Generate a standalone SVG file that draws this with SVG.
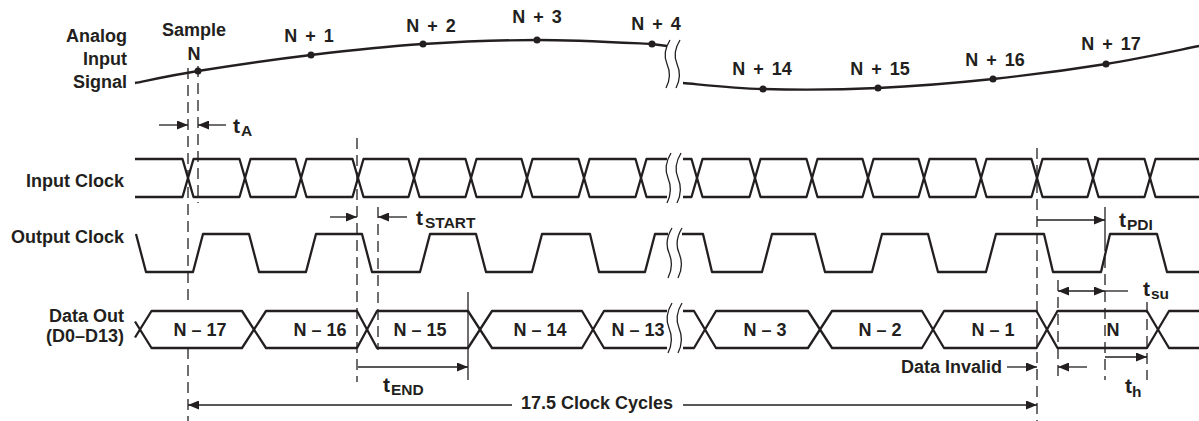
<svg xmlns="http://www.w3.org/2000/svg" width="1199" height="421" viewBox="0 0 1199 421">
<style>
text{font-family:"Liberation Sans",Arial,sans-serif;font-weight:bold;fill:#231f20}
.lbl{font-size:18px}
.nk{word-spacing:3px}
.r{text-anchor:end}
.c{text-anchor:middle}
.t{font-size:21px}
.sub{font-size:15.5px}
.sig{fill:none;stroke:#231f20;stroke-width:2.3;stroke-linejoin:round}
.dash{fill:none;stroke:#231f20;stroke-width:1.3;stroke-dasharray:11 6}
.dim{fill:none;stroke:#231f20;stroke-width:1.3}
.brk{fill:none;stroke:#231f20;stroke-width:1.3}
.dot{fill:#231f20}
</style>
<defs>
<marker id="ah" viewBox="0 0 11 9" refX="11" refY="4.5" markerWidth="11" markerHeight="9" markerUnits="userSpaceOnUse" orient="auto-start-reverse">
<path d="M0,0 L11,4.5 L0,9 z" fill="#231f20"/>
</marker>
<path id="brkp" d="M4,0 C-2,10 -2,18 1,25 C4,32 5,40 0,50 M14,0 C8,10 8,18 11,25 C14,32 15,40 10,50"/>
</defs>

<g id="labels">
<text class="lbl r" x="127" y="42">Analog</text>
<text class="lbl r" x="127" y="65">Input</text>
<text class="lbl r" x="127" y="88">Signal</text>
<text class="lbl r" x="124" y="187">Input Clock</text>
<text class="lbl r" x="124" y="243">Output Clock</text>
<text class="lbl r" x="124" y="322">Data Out</text>
<text class="lbl r" x="124" y="342">(D0–D13)</text>
</g>

<g id="analog-signal">
<path class="sig" d="M135,83 C145.5,81 168.7,75.7 198,71 C227.3,66.3 273.5,59.5 311,55 C348.5,50.5 385.3,46.5 423,44 C460.7,41.5 498.8,40 537,40 C575.2,40 630.3,43 652,44 L667,46"/>
<path class="sig" d="M683,83 C696.3,84 730.5,88.2 763,89 C795.5,89.8 839.7,89.7 878,88 C916.3,86.3 955,83 993,79 C1031,75 1071.7,69.5 1106,64 C1140.3,58.5 1183.5,49 1199,46"/>
<use href="#brkp" class="brk" transform="translate(666,40) scale(1,0.96)"/>
<circle class="dot" cx="198" cy="71" r="3.5"/>
<circle class="dot" cx="311" cy="55" r="3.5"/>
<circle class="dot" cx="423" cy="44" r="3.5"/>
<circle class="dot" cx="537" cy="40" r="3.5"/>
<circle class="dot" cx="652" cy="44" r="3.5"/>
<circle class="dot" cx="763" cy="89" r="3.5"/>
<circle class="dot" cx="878" cy="88" r="3.5"/>
<circle class="dot" cx="993" cy="79" r="3.5"/>
<circle class="dot" cx="1106" cy="64" r="3.5"/>
<text class="lbl c" x="194" y="36">Sample</text>
<text class="lbl c" x="194" y="60">N</text>
<text class="lbl c nk" x="309" y="42">N + 1</text>
<text class="lbl c nk" x="431" y="32">N + 2</text>
<text class="lbl c nk" x="537" y="23">N + 3</text>
<text class="lbl c nk" x="656" y="30">N + 4</text>
<text class="lbl c nk" x="762" y="75">N + 14</text>
<text class="lbl c nk" x="880" y="75">N + 15</text>
<text class="lbl c nk" x="995" y="66">N + 16</text>
<text class="lbl c nk" x="1111" y="50">N + 17</text>
</g>

<g id="input-clock">
<path class="sig" d="M135,159 L182.5,159 L193.5,197 L239.5,197 L250.5,159 L295.5,159 L306.5,197 L352.5,197 L363.5,159 L408.5,159 L419.5,197 L465.5,197 L476.5,159 L521.5,159 L532.5,197 L578.5,197 L589.5,159 L635.5,159 L646.5,197 L667,197"/>
<path class="sig" d="M135,197 L182.5,197 L193.5,159 L239.5,159 L250.5,197 L295.5,197 L306.5,159 L352.5,159 L363.5,197 L408.5,197 L419.5,159 L465.5,159 L476.5,197 L521.5,197 L532.5,159 L578.5,159 L589.5,197 L635.5,197 L646.5,159 L667,159"/>
<path class="sig" d="M683,159 L691.5,159 L702.5,197 L749.5,197 L760.5,159 L806.5,159 L817.5,197 L862.5,197 L873.5,159 L918.5,159 L929.5,197 L975.5,197 L986.5,159 L1031.5,159 L1042.5,197 L1087.5,197 L1098.5,159 L1144.5,159 L1155.5,197 L1199,197"/>
<path class="sig" d="M683,197 L691.5,197 L702.5,159 L749.5,159 L760.5,197 L806.5,197 L817.5,159 L862.5,159 L873.5,197 L918.5,197 L929.5,159 L975.5,159 L986.5,197 L1031.5,197 L1042.5,159 L1087.5,159 L1098.5,197 L1144.5,197 L1155.5,159 L1199,159"/>
<use href="#brkp" class="brk" transform="translate(667,153)"/>
</g>

<g id="output-clock">
<path class="sig" d="M136,234 L146,272 L193,272 L203,234 L249,234 L259,272 L306,272 L316,234 L362,234 L372,272 L420,272 L430,234 L476,234 L486,272 L532,272 L542,234 L590,234 L599,272 L645,272 L655,234 L668,234"/>
<path class="sig" d="M682,234 L703,234 L712,272 L762,272 L772,234 L815,234 L825,272 L872,272 L882,234 L928,234 L938,272 L986,272 L996,234 L1044,234 L1053,272 L1101,272 L1110,234 L1157,234 L1167,272 L1199,272"/>
<use href="#brkp" class="brk" transform="translate(668,228)"/>
</g>

<g id="data-out">
<path class="sig" d="M135,321.5 L151.5,348 L242,348 L266,311 L357,311 L377,348 L468,348 L492,311 L582,311 L604,348 L667,348"/>
<path class="sig" d="M135,337.5 L151.5,311 L242,311 L266,348 L357,348 L377,311 L468,311 L492,348 L582,348 L604,311 L667,311"/>
<path class="sig" d="M683,311 L694,311 L716,348 L808,348 L832,311 L922,311 L944,348 L1036.5,348 L1057.5,311 L1147,311 L1169,348 L1199,348"/>
<path class="sig" d="M683,348 L694,348 L716,311 L808,311 L832,348 L922,348 L944,311 L1036.5,311 L1057.5,348 L1147,348 L1169,311 L1199,311"/>
<use href="#brkp" class="brk" transform="translate(668,303)"/>
<text class="lbl c" x="200" y="336">N – 17</text>
<text class="lbl c" x="320" y="336">N – 16</text>
<text class="lbl c" x="420" y="336">N – 15</text>
<text class="lbl c" x="540" y="336">N – 14</text>
<text class="lbl c" x="638" y="336">N – 13</text>
<text class="lbl c" x="765" y="336">N – 3</text>
<text class="lbl c" x="880" y="336">N – 2</text>
<text class="lbl c" x="993" y="336">N – 1</text>
<text class="lbl c" x="1113" y="336">N</text>
</g>

<g id="connectors">
<line class="dash" x1="188" y1="68" x2="188" y2="303"/>
<line class="dash" x1="188" y1="348" x2="188" y2="421"/>
<line class="dash" x1="198" y1="66" x2="198" y2="203"/>
<line class="dash" x1="357" y1="138" x2="357" y2="382"/>
<line class="dash" x1="378" y1="207" x2="378" y2="350"/>
<line class="dash" x1="1037" y1="148" x2="1037" y2="421"/>
<line class="dash" x1="1058" y1="280" x2="1058" y2="377"/>
<line class="dim" x1="1105" y1="207" x2="1105" y2="240"/>
<line class="dash" x1="1105" y1="240" x2="1105" y2="380"/>
<line class="dash" x1="1147" y1="302" x2="1147" y2="380"/>
<line class="dim" x1="468" y1="292" x2="468" y2="380"/>

<line class="dim" x1="159" y1="125" x2="188" y2="125" marker-end="url(#ah)"/>
<line class="dim" x1="226" y1="125" x2="198" y2="125" marker-end="url(#ah)"/>
<line class="dim" x1="330" y1="217" x2="357" y2="217" marker-end="url(#ah)"/>
<line class="dim" x1="407" y1="217" x2="378" y2="217" marker-end="url(#ah)"/>
<line class="dim" x1="1037" y1="220" x2="1105" y2="220" marker-end="url(#ah)"/>
<line class="dim" x1="358" y1="367" x2="468" y2="367" marker-end="url(#ah)"/>
<line class="dim" x1="1007" y1="367" x2="1037" y2="367" marker-end="url(#ah)"/>
<line class="dim" x1="1087" y1="367" x2="1058" y2="367" marker-end="url(#ah)"/>
<line class="dim" x1="1058" y1="291" x2="1105" y2="291" marker-start="url(#ah)" marker-end="url(#ah)"/>
<line class="dim" x1="1105" y1="291" x2="1128" y2="291"/>
<line class="dim" x1="1105" y1="357" x2="1147" y2="357" marker-end="url(#ah)"/>
<line class="dim" x1="512" y1="405" x2="188" y2="405" marker-end="url(#ah)"/>
<line class="dim" x1="683" y1="405" x2="1037" y2="405" marker-end="url(#ah)"/>
</g>

<g id="timing-labels">
<text class="t" x="233" y="133">t<tspan class="sub" x="241" y="136">A</tspan></text>
<text class="t" x="416" y="225">t<tspan class="sub" x="425" y="228">START</tspan></text>
<text class="t" x="1119" y="227">t<tspan class="sub" x="1127" y="230">PDI</tspan></text>
<text class="t" x="383" y="392">t<tspan class="sub" x="391" y="395">END</tspan></text>
<text class="t" x="1143" y="296">t<tspan class="sub" x="1151" y="299">su</tspan></text>
<text class="t" x="1125" y="393">t<tspan class="sub" x="1132" y="397">h</tspan></text>
<text class="lbl r" x="1002" y="373">Data Invalid</text>
<text class="lbl c" x="597" y="409">17.5 Clock Cycles</text>
</g>
</svg>
